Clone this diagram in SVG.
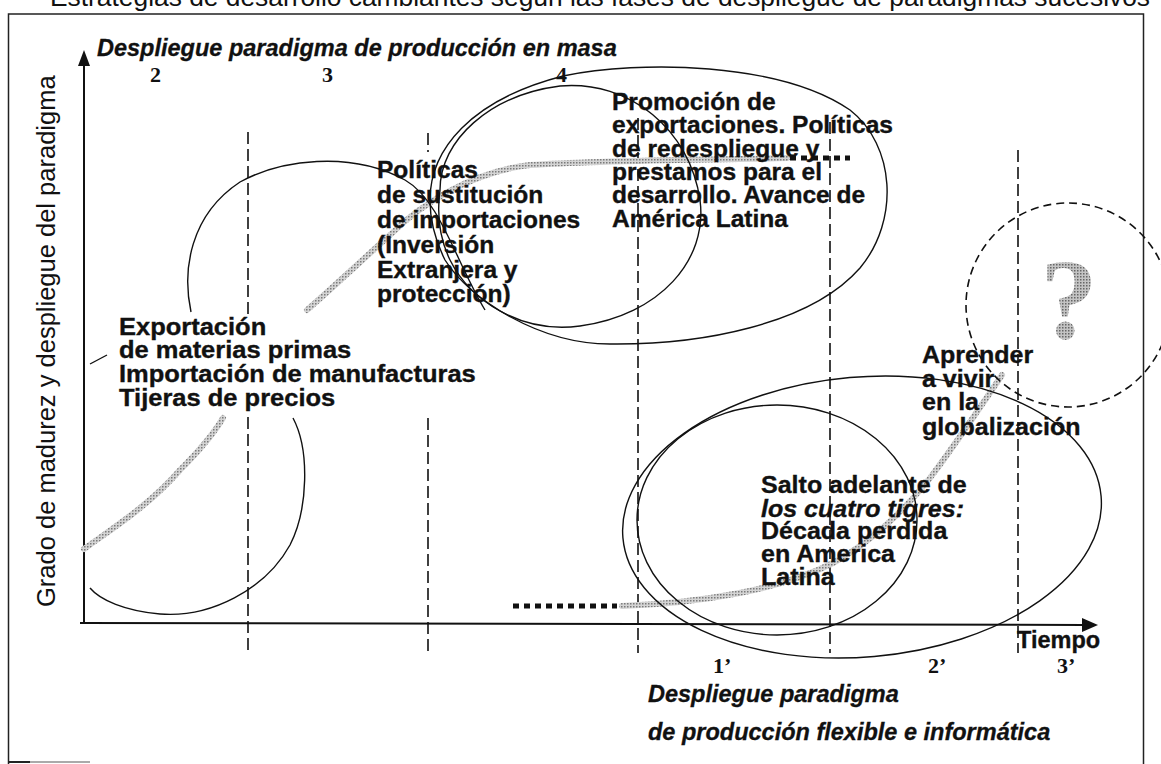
<svg xmlns="http://www.w3.org/2000/svg" width="1161" height="764" viewBox="0 0 1161 764">
<style>
.t{font-family:"Liberation Sans",Arial,Helvetica,sans-serif;font-weight:bold;font-size:23.5px;fill:#111;stroke:#111;stroke-width:0.35}
.ti{font-family:"Liberation Sans",Arial,Helvetica,sans-serif;font-weight:bold;font-style:italic;font-size:23.5px;fill:#111;stroke:#111;stroke-width:0.3}
.n{font-family:"Liberation Serif","Times New Roman",serif;font-weight:bold;font-size:22px;fill:#111}
.r{font-family:"Liberation Sans",Arial,Helvetica,sans-serif;fill:#111}
.ln{fill:none;stroke:#111;stroke-width:1.4}
.dash{fill:none;stroke:#111;stroke-width:1.6;stroke-dasharray:12 5}
.gray{fill:none;stroke:url(#ht);stroke-width:6;stroke-linecap:round}
.sq{fill:none;stroke:#111;stroke-width:5;stroke-dasharray:6 5}
</style>
<defs>
<pattern id="ht" width="3" height="3" patternUnits="userSpaceOnUse">
<rect width="3" height="3" fill="#d4d4d4"/>
<rect width="1.5" height="1.5" fill="#7a7a7a"/>
</pattern>
<pattern id="ht2" width="3" height="3" patternUnits="userSpaceOnUse">
<rect width="3" height="3" fill="#c4c4c4"/>
<rect width="1.5" height="1.5" fill="#666"/>
</pattern>
</defs>
<rect width="1161" height="764" fill="#fff"/>
<text class="r" x="50" y="6" font-size="26" textLength="1100" lengthAdjust="spacingAndGlyphs">Estrategias de desarrollo cambiantes según las fases de despliegue de paradigmas sucesivos</text>
<g id="frame" fill="none" stroke="#222" stroke-width="1.5">
<path d="M8.5,764 V14 H1143.5 V764"/>
<path d="M8,762 H30" stroke-width="2"/>
<path d="M30,762 H90" stroke="#aaa" stroke-width="2"/>
</g>
<g id="axes">
<path d="M84,624 V64" stroke="#111" stroke-width="2"/>
<path d="M78,66 L84,50 L90,66 Z" fill="#111"/>
<path d="M80,623 L1084,625" stroke="#111" stroke-width="2"/>
<path d="M1082,618 L1098,625 L1082,632 Z" fill="#111"/>
<text class="r" font-size="25.5" transform="translate(55,607) rotate(-90)">Grado de madurez y despliegue del paradigma</text>
<text class="t" x="1017" y="648">Tiempo</text>
</g>
<g id="dividers">
<path class="dash" d="M248,132 V315 M248,417 V653"/>
<path class="dash" d="M428,133 V152 M428,418 V653"/>
<path class="dash" d="M638,118 V653"/>
<path class="dash" d="M830,122 V653"/>
<path class="dash" d="M1018,150 V653"/>
</g>
<g id="labels">
<text class="ti" x="97" y="56">Despliegue paradigma de producción en masa</text>
<text class="n" x="150" y="82">2</text>
<text class="n" x="322" y="82">3</text>
<text class="n" x="556" y="82">4</text>
<text class="n" x="713" y="673">1’</text>
<text class="n" x="928" y="673">2’</text>
<text class="n" x="1057" y="673">3’</text>
<text class="ti" x="648" y="702">Despliegue paradigma</text>
<text class="ti" x="648" y="740">de producción flexible e informática</text>
</g>
<g id="connectors">
<path id="curve-masa-low" class="gray" d="M84,549 C110,530 150,505 180,470 C200,450 213,435 223,418"/>
<path id="curve-masa-high" class="gray" d="M307,310 C330,290 360,262 390,235 C420,205 470,172 530,165 C600,160 700,160 787,158"/>
<path class="sq" d="M790,158 H850"/>
<path class="sq" d="M513,606 H617" stroke-width="6" stroke-dasharray="7 5"/>
<path id="curve-flexible" class="gray" d="M622,606 C700,603 780,590 833,563 C870,543 905,510 930,478 C955,445 985,400 1002,375"/>
</g>
<g id="ellipses">
<path id="e1-low" class="ln" d="M293,418 C310,450 308,510 290,545 C265,590 210,618 160,614 C125,611 100,600 90,588"/>
<path class="ln" d="M107,355 L90,364"/>
<path id="e1-high" class="ln" d="M191,312 C182,270 190,215 240,182 C280,160 350,150 405,180 C440,200 455,260 485,310"/>
<path id="e3" class="ln" d="M440,190 C440,140 490,95 560,86 C630,80 690,130 700,200 C708,260 660,315 580,326 C520,334 470,300 450,260 C438,235 437,212 440,190 Z"/>
<path id="e2" class="ln" d="M430,200 C430,150 470,100 563,76 C640,60 780,62 850,110 C895,145 900,220 860,268 C810,325 700,345 610,344 C540,344 470,300 445,260 C435,240 430,220 430,200 Z"/>
<ellipse id="e4" class="ln" cx="777" cy="520" rx="140" ry="115"/>
<ellipse id="e5" class="ln" cx="862" cy="517" rx="240" ry="140" transform="rotate(-5 862 517)"/>
<circle id="future" cx="1068" cy="305" r="102" fill="none" stroke="#111" stroke-width="1.6" stroke-dasharray="8 5"/>
<text x="1069" y="338" text-anchor="middle" font-family="Liberation Serif,'Times New Roman',serif" font-weight="bold" font-size="114" fill="url(#ht2)">?</text>
</g>
<g id="node-exportacion" transform="translate(119,0) scale(1.085,1)">
<text class="t"><tspan x="0" y="335">Exportación</tspan><tspan x="0" y="358">de materias primas</tspan><tspan x="0" y="382">Importación de manufacturas</tspan><tspan x="0" y="406">Tijeras de precios</tspan></text>
</g>
<g id="node-sustitucion" transform="translate(377,0) scale(1.045,1)">
<text class="t"><tspan x="0" y="178">Políticas</tspan><tspan x="0" y="203">de sustitución</tspan><tspan x="0" y="228">de importaciones</tspan><tspan x="0" y="253">(Inversión</tspan><tspan x="0" y="278">Extranjera y</tspan><tspan x="0" y="302">protección)</tspan></text>
</g>
<g id="node-promocion" transform="translate(612,0) scale(1.045,1)">
<text class="t"><tspan x="0" y="110">Promoción de</tspan><tspan x="0" y="133">exportaciones. Políticas</tspan><tspan x="0" y="157">de redespliegue y</tspan><tspan x="0" y="180">prestamos para el</tspan><tspan x="0" y="203">desarrollo. Avance de</tspan><tspan x="0" y="227">América Latina</tspan></text>
</g>
<g id="node-aprender" transform="translate(922,0) scale(1.065,1)">
<text class="t"><tspan x="0" y="363">Aprender</tspan><tspan x="0" y="387">a vivir</tspan><tspan x="0" y="410">en la</tspan><tspan x="0" y="435">globalización</tspan></text>
</g>
<g id="node-salto" transform="translate(761,0) scale(1.065,1)">
<text class="t"><tspan x="0" y="493">Salto adelante de</tspan><tspan x="0" y="517" font-style="italic">los cuatro tigres:</tspan><tspan x="0" y="539">Década perdida</tspan><tspan x="0" y="562">en America</tspan><tspan x="0" y="585">Latina</tspan></text>
</g>
</svg>
